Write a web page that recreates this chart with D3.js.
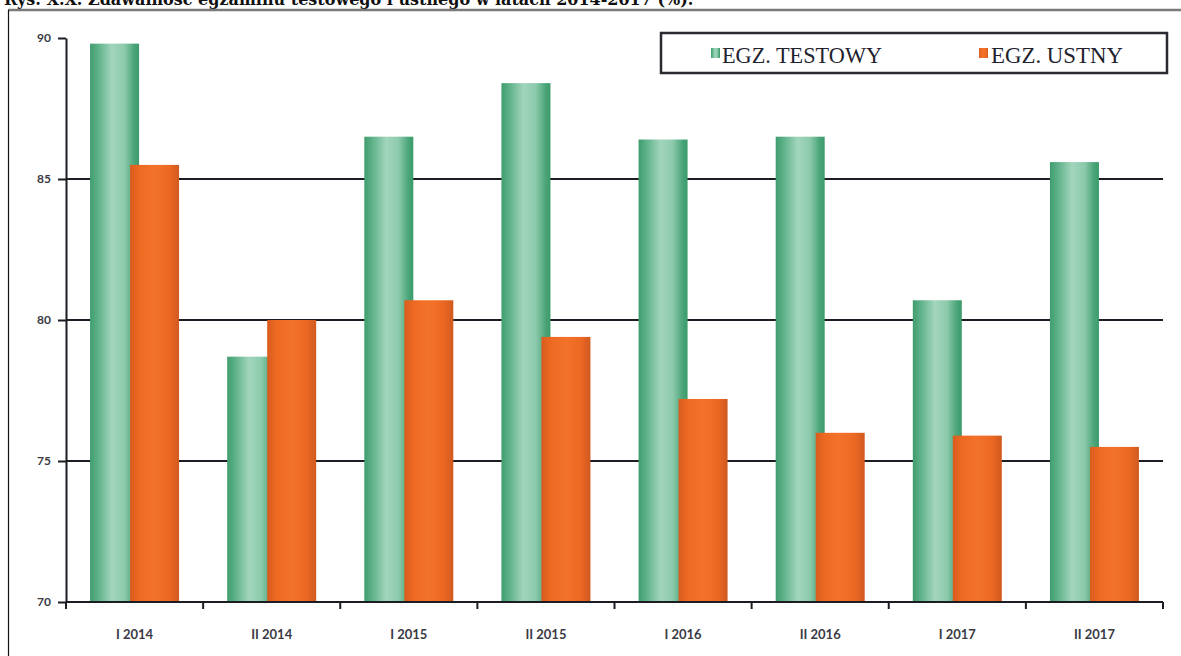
<!DOCTYPE html>
<html><head><meta charset="utf-8">
<script src="https://cdn.jsdelivr.net/npm/d3@7"></script>
<style>body{margin:0;background:#fff;overflow:hidden}</style>
</head><body>
<svg id="c" width="1181" height="656"></svg>
<script>
const categories = ["I 2014","II 2014","I 2015","II 2015","I 2016","II 2016","I 2017","II 2017"];
const testowy = [89.8, 78.7, 86.5, 88.4, 86.4, 86.5, 80.7, 85.6];
const ustny = [85.5, 80.0, 80.7, 79.4, 77.2, 76.0, 75.9, 75.5];
const seriesNames = ["EGZ. TESTOWY","EGZ. USTNY"];
const yTicks = [70, 75, 80, 85, 90];
const titleText = "Rys. X.X. Zdawalność egzaminu testowego i ustnego w latach 2014-2017 (%).";

const svg = d3.select("#c");
const defs = svg.append("defs");
const g1 = defs.append("linearGradient").attr("id","gGreen").attr("x1","0").attr("x2","1").attr("y1","0").attr("y2","0");
[[0,"#3f9d6d"],[0.15,"#5cb087"],[0.45,"#a2d5bd"],[0.7,"#8ccaac"],[0.9,"#4aa578"],[1,"#3b9a6a"]].forEach(s=>g1.append("stop").attr("offset",s[0]).attr("stop-color",s[1]));
const g2 = defs.append("linearGradient").attr("id","gOrange").attr("x1","0").attr("x2","1").attr("y1","0").attr("y2","0");
[[0,"#d85c1f"],[0.2,"#ee6a22"],[0.5,"#f3722a"],[0.8,"#ec6822"],[1,"#cf5a20"]].forEach(s=>g2.append("stop").attr("offset",s[0]).attr("stop-color",s[1]));

// title (cut off at top, as in the reference)
svg.append("text").attr("x",4).attr("y",5).attr("font-family","DejaVu Serif").attr("font-weight","bold")
  .attr("font-size",16).attr("fill","#111").text(titleText);
// outer frame
svg.append("line").attr("x1",8).attr("x2",1181).attr("y1",10).attr("y2",10).attr("stroke","#7a7a7a").attr("stroke-width",2.5);
svg.append("line").attr("x1",8.5).attr("x2",8.5).attr("y1",10).attr("y2",656).attr("stroke","#111").attr("stroke-width",1.2);

const x0 = 66, x1 = 1163, yTop = 38, yBot = 602;
const x = d3.scaleBand().domain(categories).range([x0, x1]);
const y = d3.scaleLinear().domain([70, 90]).range([yBot, yTop]);

// gridlines
svg.append("g").selectAll("line").data(yTicks.filter(t=>t>70 && t<90)).join("line")
  .attr("x1",x0).attr("x2",x1).attr("y1",d=>y(d)).attr("y2",d=>y(d))
  .attr("stroke","#1c1c24").attr("stroke-width",2);

// bars
const bw = 49, overlap = 9;
const bars = svg.append("g");
categories.forEach((c,i)=>{
  const cx = x(c) + x.bandwidth()/2;
  const gl = cx - (2*bw - overlap)/2;
  bars.append("rect").attr("x",gl).attr("y",y(testowy[i])).attr("width",bw).attr("height",yBot-y(testowy[i])).attr("fill","url(#gGreen)");
  bars.append("rect").attr("x",gl+bw-overlap).attr("y",y(ustny[i])).attr("width",bw).attr("height",yBot-y(ustny[i])).attr("fill","url(#gOrange)");
});

// y axis
const yAxis = svg.append("g").attr("transform",`translate(${x0},0)`)
  .call(d3.axisLeft(y).tickValues(yTicks).tickSize(8).tickSizeOuter(0).tickPadding(7));
yAxis.select(".domain").attr("stroke","#1c1c24").attr("stroke-width",2);
yAxis.selectAll(".tick line").attr("stroke","#1c1c24").attr("stroke-width",2);
yAxis.selectAll("text").attr("font-family","Lato").attr("font-weight","bold").attr("font-size",12).attr("fill","#3a3a44");

// x axis
const xAxis = svg.append("g").attr("transform",`translate(0,${yBot})`)
  .call(d3.axisBottom(x).tickSize(0).tickPadding(28));
xAxis.select(".domain").attr("stroke","#1c1c24").attr("stroke-width",2).attr("d",`M${x0},0H${x1}`);
xAxis.selectAll("text").attr("font-family","Lato").attr("font-weight","bold").attr("font-size",13).attr("fill","#3a3a44");
const bounds = categories.map(c=>x(c)).concat([x1]);
svg.append("g").selectAll("line").data(bounds).join("line")
  .attr("x1",d=>d).attr("x2",d=>d).attr("y1",yBot).attr("y2",yBot+7)
  .attr("stroke","#1c1c24").attr("stroke-width",2);

// legend
svg.append("rect").attr("x",661).attr("y",33).attr("width",506).attr("height",40)
  .attr("fill","#fff").attr("stroke","#2a2a30").attr("stroke-width",2.5);
const leg = [{n:seriesNames[0],f:"url(#gGreen)",mx:711,tx:722,w:160},{n:seriesNames[1],f:"url(#gOrange)",mx:979,tx:991,w:132}];
leg.forEach(l=>{
  svg.append("rect").attr("x",l.mx).attr("y",48).attr("width",9).attr("height",10).attr("fill",l.f);
  svg.append("text").attr("x",l.tx).attr("y",63).attr("font-family","Liberation Serif").attr("font-size",23)
    .attr("textLength",l.w).attr("lengthAdjust","spacingAndGlyphs")
    .attr("fill","#22222e").text(l.n);
});
</script>
</body></html>
